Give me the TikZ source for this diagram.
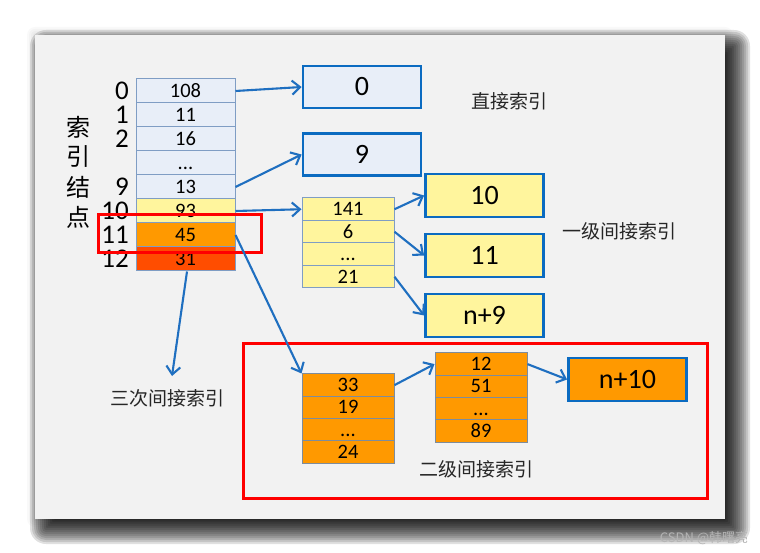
\documentclass[tikz,border=0pt]{standalone}
\usepackage{fontspec}
\setmainfont{Carlito}
\newfontfamily\cjk{Noto Sans CJK SC}
\usetikzlibrary{arrows.meta}
\definecolor{panel}{HTML}{F2F2F2}
\definecolor{paleblue}{HTML}{E8EEF8}
\definecolor{cellline}{HTML}{7F9DC4}
\definecolor{warmline}{HTML}{7E8C9C}
\definecolor{boxblue}{HTML}{0B6BC1}
\definecolor{paleyellow}{HTML}{FFF59D}
\definecolor{orangefill}{HTML}{FF9900}
\definecolor{redorange}{HTML}{FF4D00}
\definecolor{arrowblue}{HTML}{1F6FC0}
\definecolor{markgray}{HTML}{B4B4B4}

\tikzset{
  idx/.style={anchor=east, inner sep=0pt, font=\fontsize{27}{27}\selectfont},
  vlabel/.style={inner sep=0pt, font=\cjk\fontsize{24}{24}\selectfont},
  cell/.style={draw=cellline, line width=1pt, inner sep=0pt, fill=paleblue,
    minimum width=99pt, minimum height=24pt, text height=12.8pt, text depth=0pt,
    font=\fontsize{20.5}{20.5}\selectfont},
  ycell/.style={cell, fill=paleyellow, minimum width=92pt, minimum height=22.5pt},
  ocell/.style={ycell, draw=warmline, fill=orangefill, minimum height=22.25pt},
  bigbox/.style={draw=boxblue, line width=2.8pt, inner sep=0pt,
    minimum width=118pt, minimum height=42pt, font=\fontsize{28}{28}\selectfont},
  note/.style={inner sep=0pt, font=\cjk\fontsize{19}{19}\selectfont, text=black!85},
  arr/.style={draw=arrowblue, line width=2.1pt,
    -{Straight Barb[length=8pt,width=14pt,line width=2.1pt]}},
  hilite/.style={draw=red, line width=3pt},
  shadowlayer/.style={fill=black, opacity=0.12},
  halolayer/.style={fill=black, opacity=0.025},
}

\begin{document}
\begin{tikzpicture}[x=1pt, y=-1pt]
\useasboundingbox (0,0) rectangle (760,553);

% soft drop shadow of the slide panel, built from stacked translucent layers
\foreach \k in {1,...,4} {
  \pgfmathsetmacro{\e}{2*\k}
  \fill[halolayer, rounded corners=\e pt] (35-\e,35-\e) rectangle (725+\e,519+\e);
}
\foreach \k in {0,...,14} {
  \pgfmathsetmacro{\d}{15-2*\k}
  \pgfmathsetmacro{\rc}{max(\d,0)+1}
  \fill[shadowlayer, rounded corners=\rc pt] (45-\d,45-\d) rectangle (735+\d,529+\d);
}
% slide panel
\fill[panel] (35,35) rectangle (725,519);

% vertical caption of the index node
\node[vlabel] (v1) at (78,127) {索};
\node[vlabel] (v2) at (78,157) {引};
\node[vlabel] (v3) at (78,187) {结};
\node[vlabel] (v4) at (78,217) {点};

% index table
\node[cell] (i0)  at (185.5,91)  {108};
\node[cell] (i1)  at (185.5,115) {11};
\node[cell] (i2)  at (185.5,139) {16};
\node[cell] (i3)  at (185.5,163) {...};
\node[cell] (i9)  at (185.5,187) {13};
\node[cell, fill=paleyellow] (i10) at (185.5,211) {93};
\node[cell, fill=orangefill] (i11) at (185.5,235) {45};
\node[cell, fill=redorange]  (i12) at (185.5,259) {31};

% row numbers
\node[idx] (n0)  at (129,91)  {0};
\node[idx] (n1)  at (129,115) {1};
\node[idx] (n2)  at (129,139) {2};
\node[idx] (n9)  at (129,187) {9};
\node[idx] (n10) at (129,211) {10};
\node[idx] (n11) at (129,235) {11};
\node[idx] (n12) at (129,259) {12};

% direct blocks
\node[bigbox, fill=paleblue] (b0) at (362,87)    {0};
\node[bigbox, fill=paleblue] (b9) at (362,154.5) {9};
\node[note] (ldirect) at (509,101) {直接索引};

% single indirect block
\node[ycell] (y1) at (348,209.25) {141};
\node[ycell] (y2) at (348,231.75) {6};
\node[ycell] (y3) at (348,254.25) {...};
\node[ycell] (y4) at (348,276.75) {21};

\node[bigbox, fill=paleyellow, minimum height=43pt] (b10) at (484.5,195.5) {10};
\node[bigbox, fill=paleyellow, minimum height=43pt] (b11) at (484.5,255.5) {11};
\node[bigbox, fill=paleyellow, minimum height=43pt] (bn9) at (484.5,315.5) {n+9};
\node[note] (lsingle) at (619,231) {一级间接索引};

% double indirect blocks
\node[ocell] (o1) at (348,385.1) {33};
\node[ocell] (o2) at (348,407.4) {19};
\node[ocell] (o3) at (348,429.6) {...};
\node[ocell] (o4) at (348,451.9) {24};

\node[ocell] (p1) at (481,364.1) {12};
\node[ocell] (p2) at (481,386.4) {51};
\node[ocell] (p3) at (481,408.6) {...};
\node[ocell] (p4) at (481,430.9) {89};

\node[bigbox, fill=orangefill, minimum height=43pt] (bn10) at (627.5,379.5) {n+10};
\node[note] (ldouble) at (476,469) {二级间接索引};

% triple indirect caption
\node[note] (ltriple) at (167,398) {三次间接索引};
\coordinate (t3) at (172,376);

% highlight frames
\draw[hilite] (98,215) rectangle (261,253);
\draw[hilite] (243,343) rectangle (707,498);

% pointers
\draw[arr] (i0.east) -- (b0.west);
\draw[arr] (i9.east) -- (b9.west);
\draw[arr] (i10.east) -- (y1.west);
\draw[arr] (i11.east) -- (o1.north west);
\draw[arr] ([xshift=1.5pt]i12.south) -- (t3);
\draw[arr] (y1.east) -- (b10.west);
\draw[arr] (y2.east) -- (b11.west);
\draw[arr] (y4.east) -- (bn9.west);
\draw[arr] (o1.east) -- (p1.west);
\draw[arr] (p1.east) -- (bn10.west);

% watermark
\node[inner sep=0pt, text=markgray, font=\cjk\fontsize{13}{13}\selectfont] (wm) at (704,538) {CSDN @韩曙亮};
\end{tikzpicture}
\end{document}
